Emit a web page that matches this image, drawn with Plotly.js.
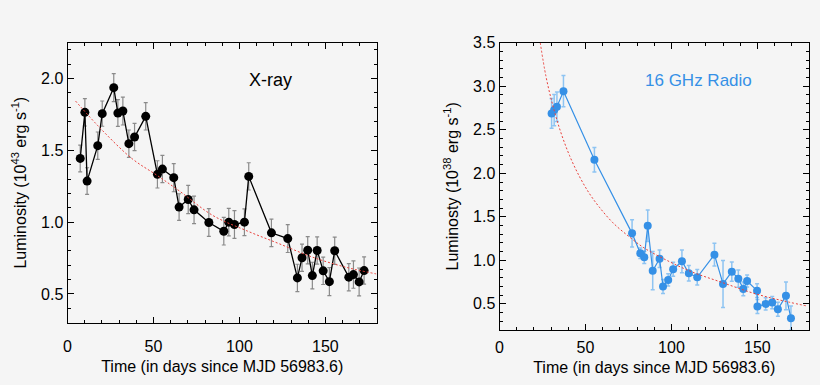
<!DOCTYPE html>
<html>
<head>
<meta charset="utf-8">
<script src="https://cdn.plot.ly/plotly-3.0.1.min.js"></script>
<style>
  html, body { margin: 0; padding: 0; background: #f5f5f5; }
  #chart { width: 820px; height: 385px; }
</style>
</head>
<body>
<div id="chart"></div>
<script>
// ---- X-ray panel data ----
const xrayDays = [7.4, 10.1, 11.4, 17.6, 20.2, 26.9, 29.3, 32.2, 35.7, 39.0, 45.5, 52.3, 55.2, 61.8,
  64.9, 70.2, 73.6, 82.2, 90.9, 93.8, 97.1, 102.9, 105.4, 118.6, 128.1, 133.7, 136.4, 139.7,
  142.4, 145.2, 148.7, 152.3, 155.4, 163.6, 166.3, 169.6, 172.5];
const xrayLum = [1.444, 1.765, 1.286, 1.533, 1.756, 1.937, 1.76, 1.774, 1.547, 1.593, 1.737, 1.333, 1.37, 1.31,
  1.105, 1.158, 1.086, 0.998, 0.937, 1.0, 0.984, 1.0, 1.319, 0.926, 0.886, 0.612, 0.752, 0.805,
  0.628, 0.803, 0.661, 0.586, 0.801, 0.617, 0.635, 0.584, 0.663];
const xrayErr = [0.093, 0.095, 0.093, 0.095, 0.088, 0.097, 0.093, 0.097, 0.095, 0.095, 0.095, 0.095, 0.095, 0.098,
  0.093, 0.098, 0.096, 0.097, 0.096, 0.096, 0.097, 0.093, 0.095, 0.096, 0.097, 0.095, 0.095, 0.095,
  0.093, 0.095, 0.095, 0.097, 0.095, 0.095, 0.095, 0.097, 0.095];
const xrayFitDays = [4.65, 20.2, 37.6, 52.1, 65.0, 84.5, 103.9, 123.3, 142.6, 162.0, 179.5];
const xrayFitLum = [1.844, 1.64, 1.442, 1.326, 1.218, 1.047, 0.942, 0.849, 0.756, 0.686, 0.64];

// ---- 16 GHz radio panel data ----
const radioDays = [30.3, 31.8, 33.4, 37.2, 55.2, 77.1, 81.9, 84.2, 86.2, 89.1, 93.1, 95.1, 98.1, 101.0,
  106.1, 110.1, 115.0, 125.0, 130.0, 135.1, 138.9, 141.8, 144.0, 149.8, 150.0, 154.8, 158.6, 161.9,
  166.6, 169.5];
const radioLum = [2.688, 2.726, 2.765, 2.943, 2.155, 1.31, 1.081, 1.035, 1.397, 0.881, 1.019, 0.699, 0.775, 0.897,
  0.989, 0.852, 0.806, 1.065, 0.729, 0.87, 0.79, 0.672, 0.763, 0.652, 0.469, 0.5, 0.515, 0.439,
  0.592, 0.336];
const radioErr = [0.17, 0.18, 0.17, 0.18, 0.14, 0.157, 0.06, 0.07, 0.18, 0.22, 0.1, 0.08, 0.07, 0.08,
  0.13, 0.09, 0.09, 0.13, 0.27, 0.11, 0.1, 0.08, 0.07, 0.08, 0.08, 0.07, 0.07, 0.08,
  0.16, 0.14];
const radioFitDays = [23.7, 27.0, 31.0, 35.5, 40.7, 46.5, 52.3, 58.1, 66.0, 75.5, 84.0, 92.9, 110.3, 129.6, 149.0, 168.4, 179.0];
const radioFitLum = [3.5, 3.115, 2.78, 2.48, 2.205, 1.963, 1.767, 1.61, 1.431, 1.27, 1.144, 1.045, 0.88, 0.745, 0.615, 0.52, 0.475];

// ---- labels ----
const xTitle = 'Time (in days since MJD 56983.6)';
const yTitleLeft = 'Luminosity (10<sup>43</sup> erg s<sup>-1</sup>)';
const yTitleRight = 'Luminosty (10<sup>38</sup> erg s<sup>-1</sup>)';
const labelLeft = 'X-ray';
const labelRight = '16 GHz Radio';
const xTickVals = [0, 50, 100, 150];
const yTickValsLeft = [0.5, 1.0, 1.5, 2.0];
const yTickValsRight = [0.5, 1.0, 1.5, 2.0, 2.5, 3.0, 3.5];

const FONT = 'Liberation Sans, Arial, Helvetica, sans-serif';
const BLUE = '#3590e6';
const XR = [0, 180];
const YR1 = [0.3, 2.25];
const YR2 = [0.2, 3.5];

const traces = [
  {
    x: xrayDays, y: xrayLum, xaxis: 'x', yaxis: 'y', type: 'scatter', mode: 'lines+markers',
    line: { color: '#000', width: 1.3 },
    marker: { color: '#000', size: 9 },
    error_y: { type: 'data', array: xrayErr, visible: true, color: '#8a8a8a', thickness: 1.2, width: 2 },
    showlegend: false, hoverinfo: 'x+y'
  },
  {
    x: xrayFitDays, y: xrayFitLum, xaxis: 'x', yaxis: 'y', type: 'scatter', mode: 'lines',
    line: { color: '#e8413c', width: 1, dash: '2px,2px', shape: 'spline' },
    showlegend: false, hoverinfo: 'skip'
  },
  {
    x: radioDays, y: radioLum, xaxis: 'x2', yaxis: 'y2', type: 'scatter', mode: 'lines+markers',
    line: { color: BLUE, width: 1.2 },
    marker: { color: BLUE, size: 8 },
    error_y: { type: 'data', array: radioErr, visible: true, color: '#8ec4f2', thickness: 1.5, width: 2 },
    showlegend: false, hoverinfo: 'x+y'
  },
  {
    x: radioFitDays, y: radioFitLum, xaxis: 'x2', yaxis: 'y2', type: 'scatter', mode: 'lines',
    line: { color: '#e8413c', width: 1, dash: '2px,2px', shape: 'spline' },
    showlegend: false, hoverinfo: 'skip'
  }
];

const tickStyle = { ticks: 'inside', ticklen: 6, tickwidth: 1, tickcolor: '#000' };

function xAxis(domain, anchor, standoff) {
  return Object.assign({
    domain: domain, anchor: anchor, range: XR,
    tickvals: xTickVals, ticktext: xTickVals.map(String),
    minor: { dtick: 10, tick0: 0, ticks: 'inside', ticklen: 3, tickcolor: '#000', tickwidth: 1 },
    showline: true, linecolor: '#000', linewidth: 1, mirror: 'allticks',
    showgrid: false, zeroline: false,
    tickfont: { family: FONT, size: 16, color: '#000' },
    ticklabelstandoff: standoff,
    title: { text: xTitle, font: { family: FONT, size: 16, color: '#000' }, standoff: 6 },
    automargin: false
  }, tickStyle);
}
function yAxis(domain, anchor, range, tickvals, title) {
  return Object.assign({
    domain: domain, anchor: anchor, range: range,
    tickvals: tickvals, ticktext: tickvals.map(v => v.toFixed(1)),
    minor: { dtick: 0.1, tick0: 0, ticks: 'inside', ticklen: 3, tickcolor: '#000', tickwidth: 1 },
    showline: true, linecolor: '#000', linewidth: 1, mirror: 'allticks',
    showgrid: false, zeroline: false,
    tickfont: { family: FONT, size: 16, color: '#000' },
    title: { text: title, font: { family: FONT, size: 16, color: '#000' }, standoff: 10 },
    automargin: false
  }, tickStyle);
}
// overlay axes that only carry the tick marks on the top / right sides of each box
function topAxis(over, anchor, domain) {
  return Object.assign({
    overlaying: over, anchor: anchor, side: 'top', domain: domain, range: XR,
    tickvals: xTickVals, showticklabels: false,
    minor: { dtick: 10, tick0: 0, ticks: 'inside', ticklen: 3, tickcolor: '#000', tickwidth: 1 },
    showline: false, showgrid: false, zeroline: false, automargin: false
  }, tickStyle);
}
function rightAxis(over, anchor, domain, range, tickvals) {
  return Object.assign({
    overlaying: over, anchor: anchor, side: 'right', domain: domain, range: range,
    tickvals: tickvals, showticklabels: false,
    minor: { dtick: 0.1, tick0: 0, ticks: 'inside', ticklen: 3, tickcolor: '#000', tickwidth: 1 },
    showline: false, showgrid: false, zeroline: false, automargin: false
  }, tickStyle);
}

const dX1 = [67.5 / 820, 377 / 820];
const dY1 = [1 - 322.7 / 385, 1 - 42.7 / 385];
const dX2 = [499.5 / 820, 809 / 820];
const dY2 = [1 - 330 / 385, 1 - 42.7 / 385];

const layout = {
  width: 820, height: 385,
  margin: { l: 0, r: 0, t: 0, b: 0 },
  paper_bgcolor: '#f5f5f5', plot_bgcolor: '#f5f5f5',
  font: { family: FONT, size: 16, color: '#000' },
  xaxis: xAxis(dX1, 'y', 9),
  yaxis: yAxis(dY1, 'x', YR1, yTickValsLeft, yTitleLeft),
  xaxis2: xAxis(dX2, 'y2', 3),
  yaxis2: yAxis(dY2, 'x2', YR2, yTickValsRight, yTitleRight),
  xaxis3: topAxis('x', 'y', dX1),
  yaxis3: rightAxis('y', 'x', dY1, YR1, yTickValsLeft),
  xaxis4: topAxis('x2', 'y2', dX2),
  yaxis4: rightAxis('y2', 'x2', dY2, YR2, yTickValsRight),
  annotations: [
    { text: labelLeft, xref: 'paper', yref: 'paper', x: 270 / 820, y: 1 - 80 / 385,
      xanchor: 'center', yanchor: 'middle', showarrow: false,
      font: { family: FONT, size: 18, color: '#000' } },
    { text: labelRight, xref: 'paper', yref: 'paper', x: 698 / 820, y: 1 - 80 / 385,
      xanchor: 'center', yanchor: 'middle', showarrow: false,
      font: { family: FONT, size: 17, color: BLUE } }
  ]
};

Plotly.newPlot('chart', traces, layout, { staticPlot: true, displayModeBar: false });
</script>
</body>
</html>
